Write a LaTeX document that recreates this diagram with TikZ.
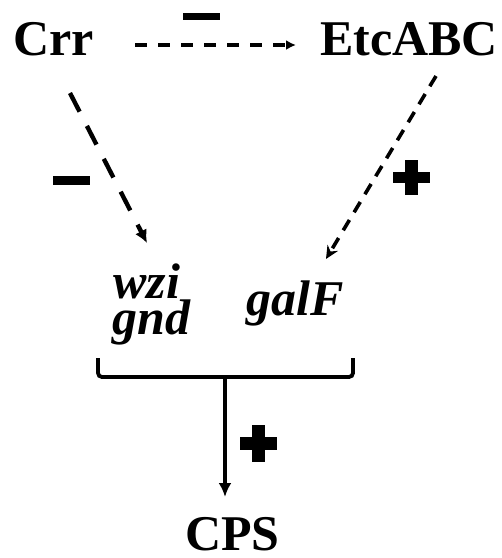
\documentclass[tikz,border=0pt]{standalone}
\usepackage{fontspec}
\setmainfont{Liberation Serif}
\usetikzlibrary{arrows.meta}
\begin{document}
\begin{tikzpicture}[x=1pt,y=-1pt,
  lbl/.style={font=\fontsize{50}{50}\selectfont\bfseries, inner sep=0pt, anchor=base west},
  gene/.style={font=\fontsize{50}{34}\selectfont\bfseries\itshape, inner sep=0pt, anchor=base west},
  sign/.style={fill=black},
  ]
\useasboundingbox (0,0) rectangle (502,558);
% labels
\node[lbl] (crr) at (13,55) {Crr};
\node[lbl] (etc) at (320,55) {EtcABC};
\node[gene, align=left] (wzignd) at (113,334) {wzi\\[-1pt]\hspace*{-1pt}gnd};
\node[gene] (galf) at (246,315) {galF};
\node[lbl] (cps) at (185,550) {CPS};
% connector end points
\coordinate (crrR) at (135,45);
\coordinate (etcL) at (296,45);
\coordinate (crrB) at (70,93);
\coordinate (wziT) at (147,243);
\coordinate (etcB) at (436,76);
\coordinate (galfT) at (326,259);
\coordinate (brL) at (98,358);
\coordinate (brR) at (353,358);
\coordinate (brM) at (225,377);
\coordinate (cpsT) at (225,497);
% regulation arrows
\draw[line width=3.6pt, dash pattern=on 12pt off 11pt, -{Latex[length=10pt,width=10pt]}] (crrR) -- (etcL);
\draw[line width=4.4pt, dash pattern=on 21pt off 16pt, -{Latex[length=13pt,width=13pt]}] (crrB) -- (wziT);
\draw[line width=3.6pt, dash pattern=on 12pt off 9pt, -{Stealth[length=13pt,width=12pt]}] (etcB) -- (galfT);
% bracket and output arrow
\draw[line width=3.8pt, rounded corners=4pt] (brL) -- (98,377) -- (353,377) -- (brR);
\draw[line width=3.8pt, -{Latex[length=14pt,width=13pt]}] (brM) -- (cpsT);
% signs
\fill[sign] (183,13) rectangle (220,20);
\fill[sign] (53,176) rectangle (90,185);
\fill[sign] (393,172) rectangle (430,183);
\fill[sign] (405,160) rectangle (418,195);
\fill[sign] (240,437) rectangle (277,450);
\fill[sign] (252,425) rectangle (265,462);
\end{tikzpicture}
\end{document}
